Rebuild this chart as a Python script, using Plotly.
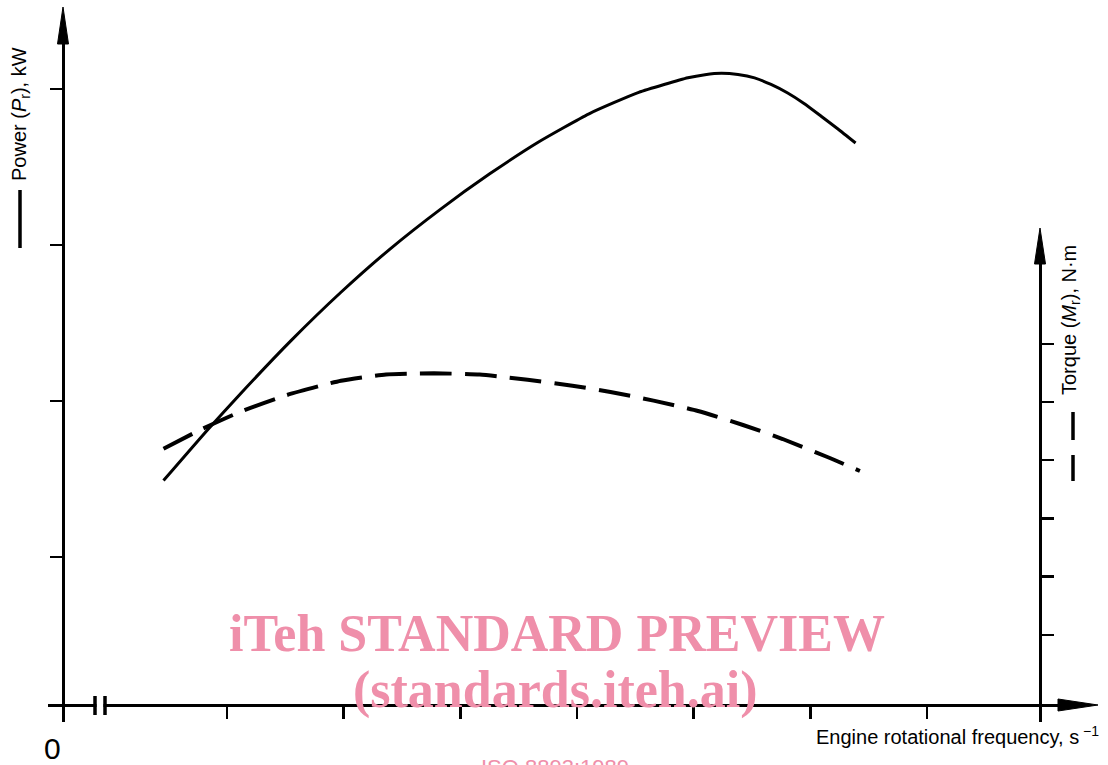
import plotly.graph_objects as go

# ---- data (arbitrary tick units) ----
speed_power = [0.456, 0.829, 1.116, 1.549, 1.977, 2.397, 2.826, 3.252, 3.674, 4.103, 4.529,
               4.951, 5.097, 5.238, 5.380, 5.522, 5.663, 5.806, 5.946, 6.090, 6.237, 6.388]
power = [1.490, 1.811, 2.047, 2.387, 2.697, 2.974, 3.227, 3.456, 3.662, 3.841, 3.978,
         4.072, 4.092, 4.101, 4.093, 4.071, 4.029, 3.974, 3.907, 3.827, 3.744, 3.654]

speed_torque = [0.456, 0.786, 1.129, 1.514, 1.977, 2.363, 2.774, 3.166, 3.577,
                3.961, 4.287, 4.656, 5.037, 5.423, 5.763, 6.146, 6.425]
torque = [4.198, 4.536, 4.845, 5.120, 5.366, 5.473, 5.493, 5.471, 5.383,
          5.280, 5.172, 5.024, 4.845, 4.605, 4.364, 4.055, 3.814]

speed_ticks = [1, 2, 3, 4, 5, 6, 7]
power_ticks = [1, 2, 3, 4]
torque_ticks = [1, 2, 3, 4, 5, 6]

power_label = "Power (<i>P</i><sub>r</sub>), kW"
torque_label = "Torque (<i>M</i><sub>r</sub>), N·m"
speed_label = "Engine rotational frequency, s<sup> −1</sup>"
origin_label = "0"
watermark_1 = "iTeh STANDARD PREVIEW"
watermark_2 = "(standards.iteh.ai)"
watermark_3 = "ISO 8893:1989"

W, H = 1108, 765


def fx(p):
    return p / W


def fy(p):
    return 1 - p / H


SANS = "Liberation Sans, Arial, Helvetica, sans-serif"
SERIF = "Liberation Serif, Times New Roman, serif"
PINK = "#EF8FAA"

fig = go.Figure()
fig.add_trace(go.Scatter(
    x=speed_power, y=power, mode="lines", xaxis="x", yaxis="y",
    line=dict(color="black", width=3, shape="spline", smoothing=0.5),
    hoverinfo="skip"))
fig.add_trace(go.Scatter(
    x=speed_torque, y=torque, mode="lines", xaxis="x", yaxis="y2",
    line=dict(color="black", width=4, dash="32px,13px", shape="spline", smoothing=0.5),
    hoverinfo="skip"))

axis_common = dict(showgrid=False, zeroline=False, showline=True, linecolor="black",
                   linewidth=3, ticks="outside", tickcolor="black", tickwidth=2.5,
                   ticklen=12, showticklabels=False, fixedrange=True)

fig.update_layout(
    width=W, height=H, margin=dict(l=0, r=0, t=0, b=0),
    paper_bgcolor="white", plot_bgcolor="rgba(0,0,0,0)", showlegend=False,
    xaxis=dict(domain=[fx(48), fx(1060)], range=[-0.534, 8.140], anchor="free",
               position=fy(705), tickvals=speed_ticks, **axis_common),
    yaxis=dict(domain=[fy(722), fy(40)], range=[-0.0577, 4.3141], anchor="free",
               position=fx(63), tickvals=power_ticks, **axis_common),
    yaxis2=dict(domain=[fy(722), fy(262)], range=[-0.4983, 7.4055], anchor="free",
                position=fx(1040), side="right", tickvals=torque_ticks, **axis_common),
)


def tri(tip, b1, b2):
    return "M {} {} L {} {} L {} {} Z".format(fx(tip[0]), fy(tip[1]), fx(b1[0]), fy(b1[1]),
                                              fx(b2[0]), fy(b2[1]))


shapes = []
# arrow heads
for path in [tri((63, 7), (57.5, 44), (68.5, 44)),
             tri((1040, 228), (1034.5, 264), (1045.5, 264)),
             tri((1098, 705), (1058, 699), (1058, 711))]:
    shapes.append(dict(type="path", path=path, xref="paper", yref="paper",
                       fillcolor="black", line=dict(color="black", width=1)))
# axis break on the x axis
shapes.append(dict(type="rect", xref="paper", yref="paper", x0=fx(96.5), x1=fx(103.5),
                   y0=fy(709), y1=fy(701), fillcolor="white", line=dict(width=0)))
for xb in (95, 105):
    shapes.append(dict(type="line", xref="paper", yref="paper", x0=fx(xb), x1=fx(xb),
                       y0=fy(696), y1=fy(715), line=dict(color="black", width=3.5)))
# legend keys next to the axis titles
shapes.append(dict(type="line", xref="paper", yref="paper", x0=fx(20), x1=fx(20),
                   y0=fy(190), y1=fy(248), line=dict(color="black", width=3.5)))
for ya, yb in ((412, 440), (455, 481)):
    shapes.append(dict(type="line", xref="paper", yref="paper", x0=fx(1073), x1=fx(1073),
                       y0=fy(ya), y1=fy(yb), line=dict(color="black", width=3.5)))
fig.update_layout(shapes=shapes)

ann = [
    dict(text=power_label, x=fx(20), y=fy(114), textangle=-90,
         font=dict(family=SANS, size=20, color="black")),
    dict(text=torque_label, x=fx(1070), y=fy(320), textangle=-90,
         font=dict(family=SANS, size=20, color="black")),
    dict(text=speed_label, x=fx(1101), y=fy(735), xanchor="right",
         font=dict(family=SANS, size=20, color="black")),
    dict(text=origin_label, x=fx(52), y=fy(748),
         font=dict(family=SANS, size=30, color="black")),
    dict(text="<b>" + watermark_1 + "</b>", x=fx(557), y=fy(633),
         font=dict(family=SERIF, size=52, color=PINK)),
    dict(text="<b>" + watermark_2 + "</b>", x=fx(555), y=fy(690),
         font=dict(family=SERIF, size=52, color=PINK)),
    dict(text=watermark_3, x=fx(555), y=fy(767),
         font=dict(family=SANS, size=22, color=PINK)),
]
for a in ann:
    a.update(xref="paper", yref="paper", showarrow=False)
    a.setdefault("xanchor", "center")
    a.setdefault("yanchor", "middle")
fig.update_layout(annotations=ann)

fig.write_html("out.html", config={"displayModeBar": False, "staticPlot": True},
               post_script="document.body.style.margin='0';document.body.style.overflow='hidden';")
